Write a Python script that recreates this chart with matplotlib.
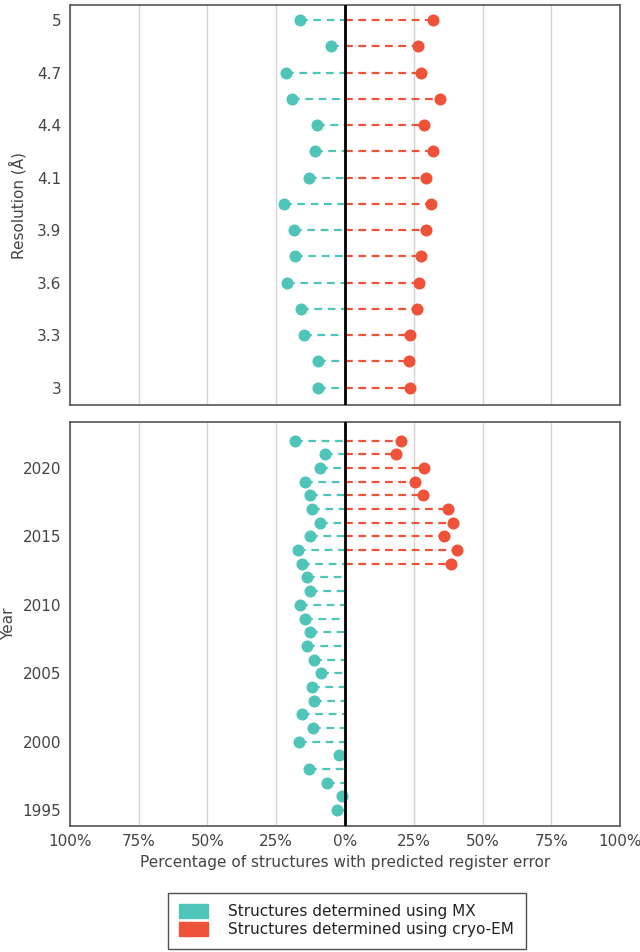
import matplotlib
matplotlib.use("Agg")
import matplotlib.pyplot as plt
from matplotlib.patches import Patch
import numpy as np

# ---- data ----
resolution = [3.0, 3.14, 3.29, 3.43, 3.57, 3.71, 3.86, 4.0, 4.14, 4.29, 4.43, 4.57, 4.71, 4.86, 5.0]
res_mx = [9.7, 9.7, 14.9, 16.1, 21.1, 18.0, 18.5, 22.3, 13.1, 11.0, 10.1, 19.3, 21.6, 4.9, 16.4]
res_em = [23.7, 23.2, 23.7, 26.2, 26.8, 27.7, 29.6, 31.1, 29.6, 32.0, 28.9, 34.4, 27.5, 26.6, 32.0]
res_tick_labels = ["3", "3.3", "3.6", "3.9", "4.1", "4.4", "4.7", "5"]

years = list(range(1995, 2023))
year_mx = [3.0, 0.9, 6.5, 13.2, 2.2, 16.8, 11.6, 15.6, 11.3, 12.1,
           8.8, 11.3, 13.7, 12.8, 14.6, 16.4, 12.8, 13.7, 15.6, 17.1,
           12.8, 9.2, 11.9, 12.8, 14.6, 9.2, 7.3, 18.2]
year_em = [np.nan] * 18 + [38.5, 40.8, 35.9, 39.4, 37.5, 28.4, 25.6, 28.9, 18.5, 20.5]
year_ticks = [1995, 2000, 2005, 2010, 2015, 2020]

x_ticks = [-100, -75, -50, -25, 0, 25, 50, 75, 100]

MX_COLOR = "#4ec5b8"
EM_COLOR = "#ee5238"
TEXT_COLOR = "#444444"
FS = 11

fig = plt.figure(figsize=(6.4, 9.52), dpi=100)
ax1 = fig.add_axes([0.109, 0.5746, 0.860, 0.4200])
ax2 = fig.add_axes([0.109, 0.1324, 0.860, 0.4243])


def draw(ax, ypos, mx, em):
    mx = np.array(mx, dtype=float)
    em = np.array(em, dtype=float)
    for y, m, e in zip(ypos, mx, em):
        ax.plot([-m, 0], [y, y], ls=(0, (3.5, 2.5)), color=MX_COLOR, lw=1.6, zorder=2)
        if not np.isnan(e):
            ax.plot([0, e], [y, y], ls=(0, (3.5, 2.5)), color=EM_COLOR, lw=1.6, zorder=2)
    ax.scatter(-mx, ypos, s=75, color=MX_COLOR, zorder=3, linewidths=0)
    ok = ~np.isnan(em)
    ax.scatter(em[ok], np.array(ypos)[ok], s=75, color=EM_COLOR, zorder=3, linewidths=0)
    ax.axvline(0, color="black", lw=2, zorder=4)
    ax.set_xlim(-100, 100)
    ax.set_xticks(x_ticks)
    for xt in x_ticks:
        ax.axvline(xt, color="#d3d3d3", lw=1, zorder=0)
    for s in ax.spines.values():
        s.set_color("#555555")
        s.set_linewidth(1.2)
    ax.tick_params(length=0, colors=TEXT_COLOR, labelsize=FS, pad=6)


# top panel
ypos1 = list(range(len(resolution)))
draw(ax1, ypos1, res_mx, res_em)
ax1.set_ylim(-0.66, 14.57)
ax1.set_yticks(ypos1[::2])
ax1.set_yticklabels(res_tick_labels)
ax1.set_xticklabels([])
ax1.set_ylabel("Resolution (Å)", color=TEXT_COLOR, fontsize=FS)
ax1.yaxis.set_label_coords(-0.078, 0.5)

# bottom panel
draw(ax2, years, year_mx, year_em)
ax2.set_ylim(1993.83, 2023.37)
ax2.set_yticks(year_ticks)
ax2.set_xticklabels([f"{abs(v)}%" for v in x_ticks])
ax2.set_ylabel("Year", color=TEXT_COLOR, fontsize=FS)
ax2.yaxis.set_label_coords(-0.098, 0.5)
ax2.set_xlabel("Percentage of structures with predicted register error", color=TEXT_COLOR, fontsize=FS)

handles = [Patch(facecolor=MX_COLOR, edgecolor=MX_COLOR),
           Patch(facecolor=EM_COLOR, edgecolor=EM_COLOR)]
leg = fig.legend(handles, ["Structures determined using MX", "Structures determined using cryo-EM"],
                 loc="center", bbox_to_anchor=(0.542, 0.033), fontsize=FS, fancybox=False,
                 frameon=True, handlelength=1.85, handleheight=1.0, handletextpad=1.35,
                 borderpad=0.75, labelspacing=0.2, borderaxespad=0)
leg.get_frame().set_edgecolor("#222222")
leg.get_frame().set_linewidth(1.0)
for t in leg.get_texts():
    t.set_color("#222222")

fig.savefig("out.png", dpi=100)
